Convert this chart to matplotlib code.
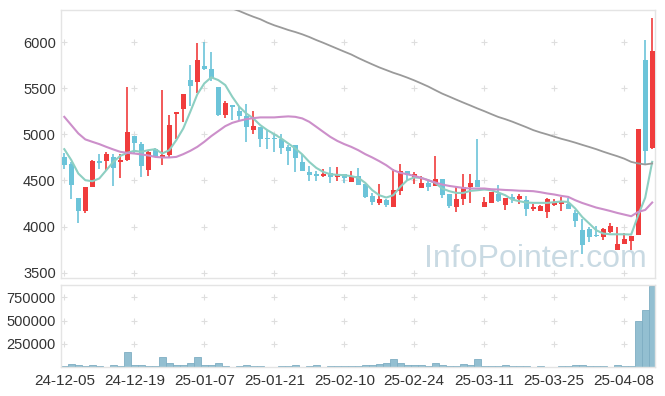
import numpy as np
import matplotlib.pyplot as plt

plt.rcParams['font.family'] = ['Liberation Sans Narrow', 'Liberation Sans', 'DejaVu Sans']

# ----------------------------------------------------------
# Data (daily candles, 24-12-05 .. 25-04-14)
# ----------------------------------------------------------
dates = ['24-12-05', '24-12-06', '24-12-09', '24-12-10', '24-12-11', '24-12-12', '24-12-13',
         '24-12-16', '24-12-17', '24-12-18', '24-12-19', '24-12-20', '24-12-23', '24-12-24',
         '24-12-26', '24-12-27', '24-12-30', '25-01-02', '25-01-03', '25-01-06', '25-01-07',
         '25-01-08', '25-01-09', '25-01-10', '25-01-13', '25-01-14', '25-01-15', '25-01-16',
         '25-01-17', '25-01-20', '25-01-21', '25-01-22', '25-01-23', '25-01-24', '25-01-31',
         '25-02-03', '25-02-04', '25-02-05', '25-02-06', '25-02-07', '25-02-10', '25-02-11',
         '25-02-12', '25-02-13', '25-02-14', '25-02-17', '25-02-18', '25-02-19', '25-02-20',
         '25-02-21', '25-02-24', '25-02-25', '25-02-26', '25-02-27', '25-02-28', '25-03-04',
         '25-03-05', '25-03-06', '25-03-07', '25-03-10', '25-03-11', '25-03-12', '25-03-13',
         '25-03-14', '25-03-17', '25-03-18', '25-03-19', '25-03-20', '25-03-21', '25-03-24',
         '25-03-25', '25-03-26', '25-03-27', '25-03-28', '25-03-31', '25-04-01', '25-04-02',
         '25-04-03', '25-04-04', '25-04-07', '25-04-08', '25-04-09', '25-04-10', '25-04-11',
         '25-04-14']

open_p = [4756, 4683, 4308, 4170, 4430, 4710, 4713, 4753, 4702, 4721,
          4982, 4895, 4617, 4840, 4753, 4772, 5217, 5278, 5590, 5572,
          5742, 5707, 5511, 5213, 5318, 5253, 5199, 5043, 5079, 4965,
          4963, 4949, 4862, 4880, 4696, 4587, 4572, 4547, 4576, 4539,
          4568, 4485, 4547, 4460, 4329, 4256, 4293, 4213, 4387, 4598,
          4528, 4422, 4473, 4443, 4514, 4349, 4213, 4300, 4429, 4503,
          4213, 4257, 4351, 4235, 4322, 4300, 4286, 4185, 4170, 4155,
          4235, 4250, 4250, 4152, 3960, 3971, 3905, 3887, 3941, 3750,
          3815, 3843, 3913, 5808, 4848]
high_p = [4800, 4700, 4308, 4430, 4720, 4783, 4808, 4786, 4786, 5511,
          4982, 4913, 4820, 4850, 5478, 5206, 5245, 5440, 5757, 5989,
          6007, 5891, 5515, 5359, 5320, 5300, 5326, 5253, 5080, 5047,
          5009, 5000, 4880, 4880, 4789, 4655, 4598, 4626, 4641, 4641,
          4570, 4598, 4631, 4460, 4365, 4460, 4295, 4620, 4677, 4600,
          4590, 4547, 4511, 4764, 4515, 4350, 4430, 4565, 4568, 4946,
          4322, 4375, 4452, 4310, 4351, 4351, 4329, 4250, 4230, 4310,
          4304, 4322, 4315, 4177, 4087, 4000, 4006, 3989, 4033, 4000,
          3935, 3900, 5054, 6025, 6261]
low_p = [4630, 4304, 4043, 4152, 4430, 4620, 4609, 4438, 4522, 4715,
         4800, 4543, 4552, 4750, 4663, 4760, 4952, 5134, 5308, 5446,
         5696, 5579, 5199, 5174, 5155, 5148, 4922, 5000, 4859, 4837,
         4813, 4789, 4672, 4587, 4600, 4492, 4496, 4533, 4478, 4492,
         4471, 4480, 4449, 4310, 4237, 4239, 4210, 4210, 4337, 4490,
         4467, 4420, 4384, 4440, 4315, 4202, 4161, 4231, 4259, 4425,
         4210, 4255, 4270, 4177, 4256, 4242, 4119, 4170, 4168, 4098,
         4221, 4170, 4190, 3996, 3699, 3833, 3890, 3851, 3935, 3745,
         3810, 3750, 3913, 4677, 4837]
close_p = [4666, 4454, 4170, 4427, 4710, 4692, 4786, 4637, 4724, 5025,
           4909, 4659, 4808, 4756, 4772, 5098, 5242, 5438, 5528, 5808,
           5710, 5615, 5213, 5340, 5300, 5199, 5083, 5093, 4952, 4949,
           4946, 4854, 4822, 4746, 4604, 4561, 4550, 4568, 4539, 4568,
           4530, 4547, 4449, 4322, 4267, 4297, 4235, 4395, 4601, 4558,
           4568, 4471, 4430, 4514, 4340, 4221, 4297, 4433, 4468, 4430,
           4264, 4373, 4278, 4308, 4300, 4329, 4185, 4213, 4228, 4304,
           4264, 4275, 4191, 4061, 3797, 3887, 3894, 3978, 4003, 3815,
           3862, 3894, 5054, 4822, 5905]
volume = [14000, 32000, 21000, 11000, 21000, 11000, 3000, 21000, 11000, 164000,
          21000, 21000, 11000, 11000, 107000, 43000, 21000, 21000, 43000, 107000,
          21000, 21000, 43000, 11000, 3000, 11000, 21000, 11000, 11000, 3000,
          3000, 11000, 11000, 21000, 3000, 11000, 21000, 3000, 11000, 11000,
          11000, 11000, 11000, 21000, 21000, 36000, 43000, 86000, 43000, 21000,
          21000, 21000, 11000, 43000, 21000, 11000, 11000, 32000, 21000, 86000,
          11000, 11000, 11000, 21000, 11000, 11000, 11000, 3000, 11000, 3000,
          3000, 11000, 11000, 21000, 21000, 11000, 11000, 11000, 3000, 21000,
          11000, 11000, 496000, 614000, 871000]

# moving average lines
ma5 = [4840, 4721, 4576, 4503, 4492, 4522, 4612, 4702, 4767, 4800,
       4822, 4811, 4829, 4840, 4793, 4829, 4938, 5065, 5246, 5435,
       5554, 5620, 5590, 5536, 5409, 5300, 5228, 5174, 5101, 5047,
       5003, 4956, 4902, 4848, 4783, 4702, 4637, 4593, 4568, 4561,
       4558, 4547, 4530, 4474, 4395, 4340, 4315, 4340, 4430, 4503,
       4533, 4528, 4503, 4474, 4413, 4384, 4365, 4365, 4387, 4394,
       4402, 4394, 4370, 4340, 4293, 4275, 4261, 4257, 4257, 4257,
       4264, 4272, 4267, 4196, 4104, 4033, 3960, 3924, 3916, 3916,
       3916, 3913, 4123, 4313, 4702]
ma20 = [5191, 5101, 5011, 4946, 4920, 4895, 4865, 4837, 4811, 4800,
        4793, 4783, 4772, 4756, 4750, 4750, 4756, 4786, 4822, 4865,
        4920, 4982, 5036, 5090, 5126, 5148, 5166, 5177, 5185, 5185,
        5185, 5191, 5196, 5191, 5174, 5137, 5083, 5028, 4974, 4930,
        4895, 4865, 4829, 4786, 4750, 4710, 4666, 4612, 4583, 4568,
        4550, 4528, 4503, 4478, 4456, 4441, 4430, 4419, 4413, 4413,
        4413, 4405, 4402, 4397, 4394, 4389, 4387, 4384, 4373, 4359,
        4348, 4333, 4322, 4286, 4256, 4231, 4206, 4188, 4169, 4148,
        4130, 4112, 4159, 4180, 4261]
ma_long_start = 24
ma_long = [6367, 6340, 6308, 6278, 6251, 6215, 6185, 6160, 6134, 6112,
           6087, 6058, 6025, 5995, 5963, 5931, 5899, 5868, 5830, 5795,
           5761, 5728, 5699, 5670, 5645, 5617, 5587, 5554, 5520, 5481,
           5443, 5411, 5378, 5346, 5315, 5283, 5253, 5221, 5190, 5166,
           5139, 5109, 5079, 5047, 5022, 5000, 4976, 4953, 4933, 4911,
           4887, 4864, 4840, 4813, 4788, 4764, 4737, 4702, 4685, 4674,
           4685]

price_ticks = [3500, 4000, 4500, 5000, 5500, 6000]
vol_ticks = [250000, 500000, 750000]
label_step = 10

RED = '#f03c3c'
BLUE = '#6cc4d9'
GRID = '#dedede'
FRAME = '#e4e4e4'
TXT = '#333333'

# ----------------------------------------------------------
# Figure with price panel on top and volume panel below
# ----------------------------------------------------------
W, H = 665, 396
fig = plt.figure(figsize=(W / 100, H / 100), dpi=100)
ax = fig.add_axes([61.3 / W, 1 - 278.3 / H, (655 - 61.3) / W, (278.3 - 10) / H])
axv = fig.add_axes([61.3 / W, 1 - 367.3 / H, (655 - 61.3) / W, (367.3 - 285) / H], sharex=ax)

x = np.arange(len(dates))
o = np.array(open_p)
c = np.array(close_p)
colors = np.where(c >= o, RED, BLUE)

# watermark behind everything
ax.text(647 / W, 1 - 266.7 / H, 'InfoPointer.com', transform=fig.transFigure,
        ha='right', va='baseline', fontsize=23, color='#c9dae3',
        family='Liberation Sans', zorder=0)

# grid crosses
gx, gy = np.meshgrid(x[::label_step], price_ticks)
ax.scatter(gx.ravel(), gy.ravel(), marker='+', s=14, color=GRID, linewidths=0.8, zorder=1)
gx, gy = np.meshgrid(x[::label_step], vol_ticks)
axv.scatter(gx.ravel(), gy.ravel(), marker='+', s=14, color=GRID, linewidths=0.8, zorder=1)

# candles
ax.vlines(x, low_p, high_p, colors=colors, lw=1.2, zorder=3)
ax.bar(x, np.maximum(np.abs(c - o), 15), bottom=np.minimum(o, c), width=0.72,
       color=colors, zorder=3)

# moving averages
ax.plot(x, ma5, color='#8dcfc2', lw=1.5, zorder=4)
ax.plot(x, ma20, color='#cc8fca', lw=1.5, zorder=4)
ax.plot(x[ma_long_start:], ma_long, color='#9a9a9a', lw=1.3, zorder=4)

ax.set_ylim(3438, 6351)
ax.set_xlim(-0.43, 84.4)
ax.set_yticks(price_ticks)
ax.tick_params(axis='y', length=0, pad=4, labelsize=10.5, labelcolor=TXT)
ax.tick_params(axis='x', length=0, labelbottom=False)

# volume bars
axv.bar(x, volume, width=1.0, color='#93bfd1', edgecolor='#7eaec3', linewidth=0.6, zorder=2)
axv.set_ylim(0, 880000)
axv.set_yticks(vol_ticks)
axv.set_yticklabels([str(v) for v in vol_ticks])
axv.set_xticks(x[::label_step])
axv.set_xticklabels(dates[::label_step])
axv.tick_params(axis='y', length=0, pad=4, labelsize=10.5, labelcolor=TXT)
axv.tick_params(axis='x', length=0, pad=5, labelsize=11, labelcolor=TXT)

for a in (ax, axv):
    for s in a.spines.values():
        s.set_color(FRAME)
        s.set_linewidth(1.0)

fig.savefig('out.png', dpi=100)
